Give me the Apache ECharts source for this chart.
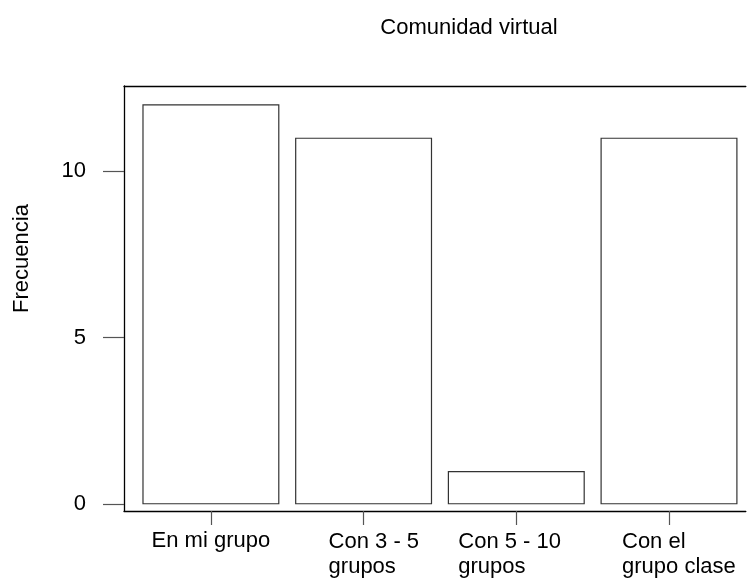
<!DOCTYPE html>
<html>
<head>
<meta charset="utf-8">
<title>Comunidad virtual</title>
<script src="https://cdn.jsdelivr.net/npm/echarts@6/dist/echarts.min.js"></script>
<style>
  html, body { margin: 0; padding: 0; background: #fff; }
  #container { width: 747px; height: 585px; }
</style>
</head>
<body>
<div id="container"></div>
<script>
// datos
var categorias = ['En mi grupo', 'Con 3 - 5\ngrupos', 'Con 5 - 10\ngrupos', 'Con el\ngrupo clase'];
var frecuencias = [12, 11, 1, 11];
var marcasY = [0, 5, 10];

var fuente = '"Liberation Sans", Arial, sans-serif';
// bloque de cada etiqueta: ancho y relleno (lineas alineadas a la izquierda)
var anchoEtiqueta = [0, 92, 104, 122];
var rellenoEtiqueta = [[0, 0, 0, 0], [0, 0, 0, 22], [0, 12, 0, 0], [0, 0, 0, 28]];
var posiciones = categorias.map(function (c, i) { return i; });

var dom = document.getElementById('container');
var myChart = echarts.init(dom);

var rich = {};
anchoEtiqueta.forEach(function (w, i) {
    rich['l' + i] = {
        width: w || undefined,
        align: 'left',
        padding: rellenoEtiqueta[i],
        fontSize: 22,
        lineHeight: i === 0 ? 24 : 25,
        fontFamily: fuente,
        color: '#000'
    };
});

var option = {
    animation: false,
    backgroundColor: '#fff',
    title: {
        text: 'Comunidad virtual',
        left: 464,
        top: 12,
        textAlign: 'center',
        textStyle: { fontSize: 22, fontWeight: 'normal', fontFamily: fuente, color: '#000' }
    },
    grid: {
        left: 124,
        right: 0,
        top: 86,
        bottom: 74
    },
    xAxis: [{
        type: 'value',
        min: -0.569,
        max: 3.503,
        position: 'bottom',
        axisLine: { show: true, onZero: false, lineStyle: { color: '#000', width: 1.3 } },
        axisTick: { show: true, length: 14, customValues: posiciones, lineStyle: { color: '#555', width: 1.2 } },
        splitLine: { show: false },
        axisLabel: {
            margin: 18,
            customValues: posiciones,
            formatter: function (value) {
                var idx = Math.round(value);
                var texto = categorias[idx];
                if (texto === undefined) return '';
                if (idx === 0) return '{l0|' + texto + '}';
                return texto.split('\n').map(function (s) { return '{l' + idx + '|' + s + '}'; }).join('\n');
            },
            rich: rich
        }
    }, {
        type: 'value',
        min: -0.569,
        max: 3.503,
        position: 'top',
        axisLine: { show: true, onZero: false, lineStyle: { color: '#000', width: 1.3 } },
        axisTick: { show: false },
        axisLabel: { show: false },
        splitLine: { show: false }
    }],
    yAxis: {
        type: 'value',
        min: -0.2,
        max: 12.55,
        name: 'Frecuencia',
        nameLocation: 'middle',
        nameGap: 91,
        nameTextStyle: { fontSize: 22, fontFamily: fuente, color: '#000', padding: [0, 0, 0, 80] },
        axisLine: { show: true, onZero: false, lineStyle: { color: '#000', width: 1.3 } },
        axisTick: { show: true, length: 21, customValues: marcasY, lineStyle: { color: '#555', width: 1.2 } },
        splitLine: { show: false },
        axisLabel: { margin: 38, customValues: marcasY, fontSize: 22, fontFamily: fuente, color: '#000' }
    },
    series: [{
        type: 'bar',
        data: frecuencias.map(function (v, i) { return [posiciones[i], v]; }),
        barWidth: 137,
        itemStyle: { color: '#fff', borderColor: '#333', borderWidth: 1.2 },
        silent: true
    }]
};

myChart.setOption(option);
</script>
</body>
</html>
